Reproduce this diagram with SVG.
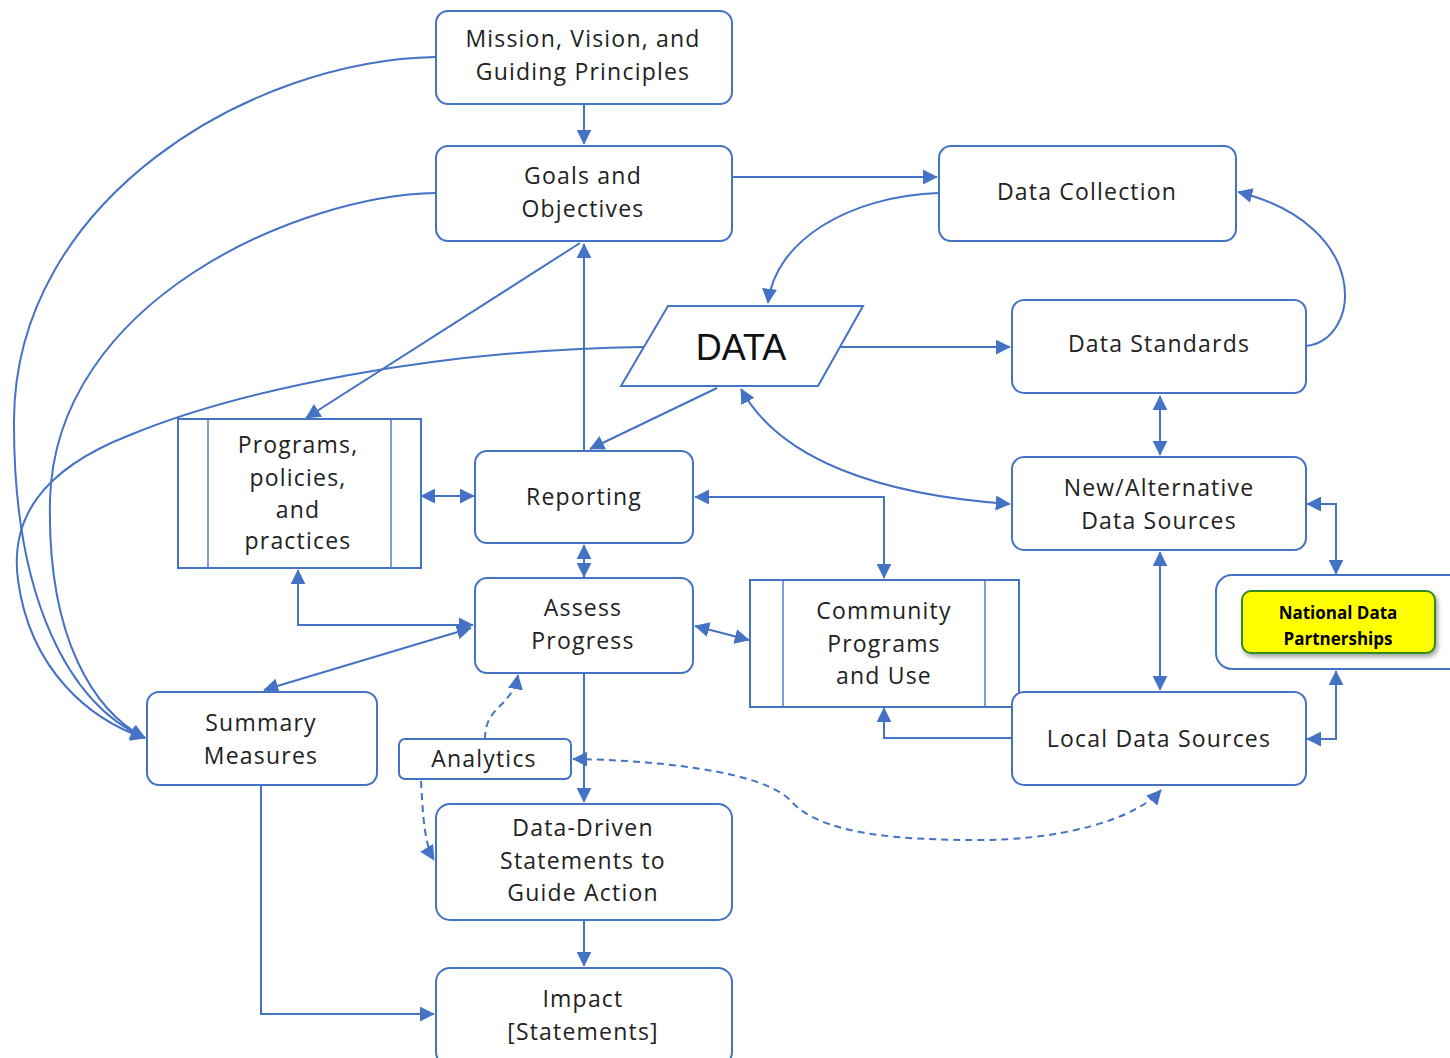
<svg xmlns="http://www.w3.org/2000/svg" width="1450" height="1058" viewBox="0 0 1450 1058">
<style>
.box{fill:#fff;stroke:#4472C4;stroke-width:2}
.inner{stroke:#7c9ddb;stroke-width:2}
.t{font-family:"Open Sans","Liberation Sans",sans-serif;font-size:23px;letter-spacing:1.2px;fill:#222;text-anchor:middle}
.c{fill:none;stroke:#4472C4;stroke-width:2}
.d{fill:none;stroke:#4472C4;stroke-width:2;stroke-dasharray:7,5}
.ndp{font-family:"Open Sans","Liberation Sans",sans-serif;font-size:17px;font-weight:bold;fill:#000;text-anchor:middle}
</style>
<defs>
<marker id="a" viewBox="0 0 10 10" refX="9.5" refY="5" markerWidth="15" markerHeight="15" markerUnits="userSpaceOnUse" orient="auto-start-reverse">
<path d="M0,0 L10,5 L0,10 z" fill="#4472C4"/>
</marker>
<filter id="sh" x="-10%" y="-10%" width="130%" height="140%">
<feDropShadow dx="2" dy="3" stdDeviation="2" flood-color="#000" flood-opacity="0.35"/>
</filter>
</defs>
<rect width="1450" height="1058" fill="#fff"/>

<g id="connectors">
<path class="c" d="M584,104 V144" marker-end="url(#a)"/>
<path class="c" d="M732,177 H937" marker-end="url(#a)"/>
<path class="c" d="M939,193 C850,196 775,240 768,303" marker-end="url(#a)"/>
<path class="c" d="M1306,346 C1362,340 1372,225 1238,192" marker-end="url(#a)"/>
<path class="c" d="M840,347 H1010" marker-end="url(#a)"/>
<path class="c" d="M1160,396 V455" marker-start="url(#a)" marker-end="url(#a)"/>
<path class="c" d="M741,389 C780,460 880,495 1010,504" marker-start="url(#a)" marker-end="url(#a)"/>
<path class="c" d="M717,388 L590,449" marker-end="url(#a)"/>
<path class="c" d="M584,451 V244" marker-end="url(#a)"/>
<path class="c" d="M580,243 L306,418" marker-end="url(#a)"/>
<path class="c" d="M643,347 C430,350 240,390 130,435 C40,470 10,520 18,580 C30,670 90,720 145,738" marker-end="url(#a)"/>
<path class="c" d="M436,57 C250,60 15,200 14,420 C13,600 70,705 145,738" marker-end="url(#a)"/>
<path class="c" d="M436,193 C300,195 55,300 50,500 C47,640 95,712 145,738" marker-end="url(#a)"/>
<path class="c" d="M421,496 H474" marker-start="url(#a)" marker-end="url(#a)"/>
<path class="c" d="M584,545 V577" marker-start="url(#a)" marker-end="url(#a)"/>
<path class="c" d="M298,570 V625 H473" marker-start="url(#a)" marker-end="url(#a)"/>
<path class="c" d="M471,628 L264,690" marker-start="url(#a)" marker-end="url(#a)"/>
<path class="c" d="M695,626 L749,640" marker-start="url(#a)" marker-end="url(#a)"/>
<path class="c" d="M695,497 H884 V578" marker-start="url(#a)" marker-end="url(#a)"/>
<path class="c" d="M1012,738 H884 V708" marker-end="url(#a)"/>
<path class="c" d="M1160,552 V690" marker-start="url(#a)" marker-end="url(#a)"/>
<path class="c" d="M1307,504 H1336 V574" marker-start="url(#a)" marker-end="url(#a)"/>
<path class="c" d="M1307,739 H1336 V671" marker-start="url(#a)" marker-end="url(#a)"/>
<path class="c" d="M584,673 V802" marker-end="url(#a)"/>
<path class="d" d="M485,739 C485,705 512,708 518,675" marker-end="url(#a)"/>
<path class="d" d="M421,781 C423,820 425,845 434,860" marker-end="url(#a)"/>
<path class="d" d="M573,759 C650,760 760,770 790,800 C820,835 900,840 980,840 C1060,840 1135,820 1161,790" marker-start="url(#a)" marker-end="url(#a)"/>
<path class="c" d="M261,786 V1014 H434" marker-end="url(#a)"/>
<path class="c" d="M584,920 V966" marker-end="url(#a)"/>
</g>

<g id="mission">
<rect class="box" x="436" y="11" width="296" height="93" rx="12"/>
<text class="t" x="583" y="47">Mission, Vision, and</text>
<text class="t" x="583" y="80">Guiding Principles</text>
</g>
<g id="goals">
<rect class="box" x="436" y="146" width="296" height="95" rx="12"/>
<text class="t" x="583" y="184">Goals and</text>
<text class="t" x="583" y="217">Objectives</text>
</g>
<g id="data-collection">
<rect class="box" x="939" y="146" width="297" height="95" rx="12"/>
<text class="t" x="1087" y="200">Data Collection</text>
</g>
<g id="data">
<polygon class="box" points="668,306 863,306 818,386 621,386"/>
<text x="741" y="360" style="font-size:36px;font-family:'Liberation Sans','Open Sans',sans-serif;text-anchor:middle" fill="#111">DATA</text>
</g>
<g id="data-standards">
<rect class="box" x="1012" y="300" width="294" height="93" rx="12"/>
<text class="t" x="1159" y="352">Data Standards</text>
</g>
<g id="programs">
<rect class="box" x="178" y="419" width="243" height="149"/>
<line class="inner" x1="208" y1="420" x2="208" y2="567"/>
<line class="inner" x1="391" y1="420" x2="391" y2="567"/>
<text class="t" x="298" y="453">Programs,</text>
<text class="t" x="298" y="486">policies,</text>
<text class="t" x="298" y="518">and</text>
<text class="t" x="298" y="549">practices</text>
</g>
<g id="reporting">
<rect class="box" x="475" y="451" width="218" height="92" rx="12"/>
<text class="t" x="584" y="505">Reporting</text>
</g>
<g id="new-alt">
<rect class="box" x="1012" y="457" width="294" height="93" rx="12"/>
<text class="t" x="1159" y="496">New/Alternative</text>
<text class="t" x="1159" y="529">Data Sources</text>
</g>
<g id="assess">
<rect class="box" x="475" y="578" width="218" height="95" rx="12"/>
<text class="t" x="583" y="616">Assess</text>
<text class="t" x="583" y="649">Progress</text>
</g>
<g id="community">
<rect class="box" x="750" y="580" width="269" height="127"/>
<line class="inner" x1="783" y1="581" x2="783" y2="706"/>
<line class="inner" x1="985" y1="581" x2="985" y2="706"/>
<text class="t" x="884" y="619">Community</text>
<text class="t" x="884" y="652">Programs</text>
<text class="t" x="884" y="684">and Use</text>
</g>
<g id="national">
<rect class="box" x="1216" y="575" width="250" height="94" rx="16"/>
<rect x="1242" y="591" width="193" height="62" rx="9" fill="#ffff00" stroke="#2e8b1f" stroke-width="2" filter="url(#sh)"/>
<text class="ndp" x="1338" y="619">National Data</text>
<text class="ndp" x="1338" y="645">Partnerships</text>
</g>
<g id="summary">
<rect class="box" x="147" y="692" width="230" height="93" rx="12"/>
<text class="t" x="261" y="731">Summary</text>
<text class="t" x="261" y="764">Measures</text>
</g>
<g id="analytics">
<rect class="box" x="399" y="739" width="172" height="40" rx="6"/>
<text class="t" x="484" y="767">Analytics</text>
</g>
<g id="local">
<rect class="box" x="1012" y="692" width="294" height="93" rx="12"/>
<text class="t" x="1159" y="747">Local Data Sources</text>
</g>
<g id="data-driven">
<rect class="box" x="436" y="804" width="296" height="116" rx="14"/>
<text class="t" x="583" y="836">Data-Driven</text>
<text class="t" x="583" y="869">Statements to</text>
<text class="t" x="583" y="901">Guide Action</text>
</g>
<g id="impact">
<rect class="box" x="436" y="968" width="296" height="98" rx="14"/>
<text class="t" x="583" y="1007">Impact</text>
<text class="t" x="583" y="1040">[Statements]</text>
</g>
</svg>
